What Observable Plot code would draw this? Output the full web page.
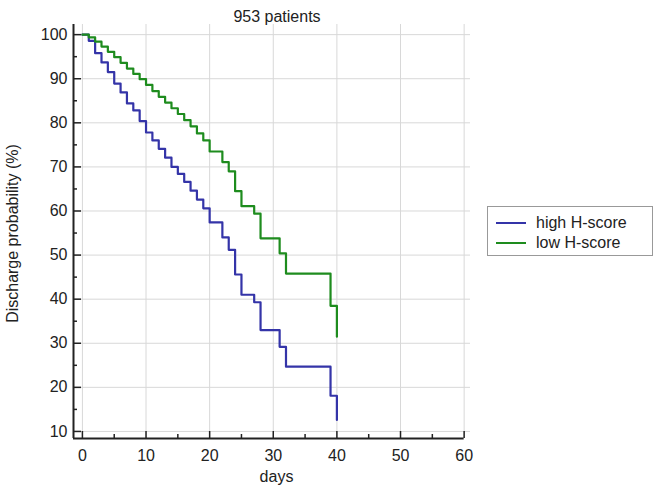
<!DOCTYPE html>
<html>
<head>
<meta charset="utf-8">
<script src="https://cdn.jsdelivr.net/npm/d3@7"></script>
<script src="https://cdn.jsdelivr.net/npm/@observablehq/plot@0.6"></script>
<style>
  html, body { margin: 0; padding: 0; background: #fff; }
  #wrap { position: relative; width: 657px; height: 492px; font-family: "Liberation Sans", Arial, sans-serif; }
  #legend { position: absolute; left: 487px; top: 206px; width: 166px; height: 50px; border: 1px solid #999; box-sizing: border-box; background: #fff; }
  .item { position: absolute; left: 0; height: 20px; width: 166px; }
  .sw { position: absolute; left: 8px; top: 9px; width: 30px; height: 2px; }
  .lab { position: absolute; left: 48px; top: 0; font-size: 16px; line-height: 20px; color: #222; white-space: nowrap; }
</style>
</head>
<body>
<div id="wrap"><div id="chart"></div><div id="legend"></div></div>
<script>
// ---- data ----
const titleText = "953 patients";
const xLabel = "days";
const yLabel = "Discharge probability (%)";
const seriesNames = ["high H-score", "low H-score"];
const seriesColors = ["#3434a8", "#1e8c1e"];
const days = [0,1,2,3,4,5,6,7,8,9,10,11,12,13,14,15,16,17,18,19,20,22,23,24,25,27,28,31,32,39,40];
const highValues = [100,98.6,95.8,93.7,91.5,88.9,86.9,84.4,82.8,80.4,77.8,76.0,74.1,72.1,70.0,68.4,66.6,64.6,62.6,60.6,57.4,54.0,51.2,45.6,41.0,39.3,33.0,29.2,24.7,18.1,12.6];
const lowValues  = [100,99.4,98.4,97.3,96.1,94.9,93.6,92.3,91.1,89.9,88.6,87.2,85.9,84.6,83.3,82.0,80.6,79.2,77.6,76.0,73.5,71.1,69.0,64.5,61.1,59.4,53.8,50.4,45.8,38.5,31.5];
const xMajor = [0,10,20,30,40,50,60];
const xMinor = [5,15,25,35,45,55];
const yMajor = [10,20,30,40,50,60,70,80,90,100];
const yMinor = [15,25,35,45,55,65,75,85,95];
const xDomain = [-1.4, 61];
const yDomain = [8.4, 102.3];

const highData = days.map((d, i) => ({day: d, v: highValues[i]}));
const lowData = days.map((d, i) => ({day: d, v: lowValues[i]}));

const ink = "#222";
const chart = Plot.plot({
  width: 657,
  height: 492,
  marginLeft: 73,
  marginRight: 187,
  marginTop: 24,
  marginBottom: 54,
  style: {fontFamily: "'Liberation Sans', Arial, sans-serif", fontSize: "16px", color: ink, background: "#fff", overflow: "visible"},
  x: {domain: xDomain},
  y: {domain: yDomain},
  marks: [
    Plot.gridX(xMajor, {stroke: "#d8d8d8", strokeOpacity: 1, strokeWidth: 1}),
    Plot.gridY(yMajor, {stroke: "#d8d8d8", strokeOpacity: 1, strokeWidth: 1}),
    Plot.line(highData, {x: "day", y: "v", curve: "step-after", stroke: seriesColors[0], strokeWidth: 2.2}),
    Plot.line(lowData, {x: "day", y: "v", curve: "step-after", stroke: seriesColors[1], strokeWidth: 2.2}),
    Plot.ruleX([xDomain[0]], {stroke: ink, strokeWidth: 2}),
    Plot.ruleY([yDomain[0]], {x1: xDomain[0], x2: 60, stroke: ink, strokeWidth: 2}),
    Plot.axisY(yMajor, {tickSize: -8, fill: "none", stroke: ink, strokeWidth: 1.5, label: null}),
    Plot.axisY(yMinor, {tickSize: -4, fill: "none", stroke: ink, strokeWidth: 1.5, label: null}),
    Plot.axisY(yMajor, {tickSize: 0, tickPadding: 6, fill: ink, fontSize: 16, label: null}),
    Plot.axisX(xMajor, {tickSize: -7, fill: "none", stroke: ink, strokeWidth: 1.5, label: null}),
    Plot.axisX(xMinor, {tickSize: -4, fill: "none", stroke: ink, strokeWidth: 1.5, label: null}),
    Plot.axisX(xMajor, {tickSize: 0, tickPadding: 11, fill: ink, fontSize: 16, label: null}),
    Plot.text([titleText], {text: d => d, frameAnchor: "top", dy: -13.5, dx: 5, fontSize: 16, fill: ink}),
    Plot.text([xLabel], {text: d => d, frameAnchor: "bottom", dy: 43.5, dx: 4.5, fontSize: 16, fill: ink}),
    Plot.text([yLabel], {text: d => d, frameAnchor: "left", textAnchor: "middle", rotate: -90, dx: -61, dy: 2, fontSize: 16, fill: ink})
  ]
});
document.getElementById("chart").appendChild(chart);

const legend = document.getElementById("legend");
seriesNames.forEach((name, i) => {
  const item = document.createElement("div");
  item.className = "item";
  item.style.top = (6 + i * 20) + "px";
  const sw = document.createElement("div");
  sw.className = "sw";
  sw.style.background = seriesColors[i];
  const lab = document.createElement("div");
  lab.className = "lab";
  lab.textContent = name;
  item.appendChild(sw);
  item.appendChild(lab);
  legend.appendChild(item);
});
</script>
</body>
</html>
